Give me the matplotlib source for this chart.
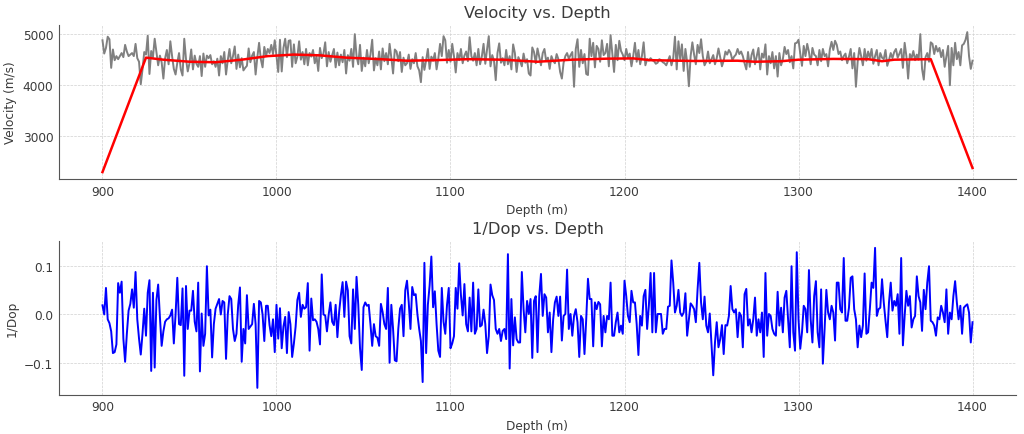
import numpy as np
import matplotlib
matplotlib.use('Agg')
import matplotlib.pyplot as plt

# velocity log, one value per metre from 900 m
velocity = [
    4870, 4610, 4720, 4940, 4890, 4330, 4690, 4480, 4560, 4500,
    4560, 4620, 4540, 4780, 4650, 4560, 4590, 4620, 4560, 4800,
    4520, 4450, 4010, 4300, 4640, 4590, 4960, 4210, 4660, 4540,
    4900, 4640, 4380, 4570, 4440, 4120, 4520, 4680, 4400, 4850,
    4560, 4310, 4200, 4430, 4620, 4300, 4180, 4900, 4500, 4260,
    4420, 4690, 4300, 4570, 4410, 4350, 4560, 4170, 4610, 4350,
    4570, 4520, 4580, 4400, 4460, 4350, 4510, 4180, 4560, 4420,
    4640, 4200, 4480, 4700, 4420, 4560, 4750, 4310, 4590, 4340,
    4520, 4280, 4330, 4370, 4710, 4440, 4570, 4640, 4200, 4540,
    4820, 4500, 4340, 4740, 4560, 4700, 4620, 4780, 4600, 4870,
    4560, 4250, 4880, 4260, 4720, 4900, 4540, 4860, 4870, 4350,
    4790, 4420, 4550, 4850, 4490, 4640, 4400, 4700, 4380, 4620,
    4550, 4680, 4420, 4560, 4270, 4720, 4520, 4610, 4830, 4360,
    4640, 4450, 4580, 4700, 4340, 4630, 4380, 4590, 4440, 4680,
    4220, 4580, 4470, 4700, 4350, 4990, 4560, 4400, 4780, 4270,
    4530, 4360, 4680, 4420, 4590, 4880, 4280, 4520, 4380, 4650,
    4300, 4710, 4460, 4620, 4400, 4800, 4530, 4220, 4690, 4650,
    4460, 4640, 4250, 4530, 4380, 4420, 4590, 4310, 4500, 4420,
    4620, 4360, 4280, 4050, 4540, 4290, 4480, 4700, 4310, 4550,
    4470, 4620, 4300, 4510, 4800, 4560, 4950, 4870, 4430, 4680,
    4450, 4800, 4560, 4240, 4620, 4480, 4700, 4420, 4570, 4650,
    4460, 4930, 4560, 4470, 4620, 4380, 4700, 4400, 4550, 4800,
    4410, 4690, 4950, 4360, 4580, 4470, 4090, 4620, 4810, 4430,
    4520, 4380, 4680, 4400, 4560, 4300, 4790, 4620, 4250, 4540,
    4460, 4360, 4610, 4430, 4500, 4220, 4180, 4730, 4640, 4420,
    4710, 4550, 4380, 4620, 4700, 4460, 4530, 4310, 4560, 4470,
    4420, 4600, 4500, 4250, 4120, 4430, 4560, 4620, 4510, 4580,
    4640, 3960, 4700, 4890, 4350, 4680, 4420, 4600, 4210, 4190,
    4900, 4560, 4820, 4340, 4760, 4700, 4450, 4870, 4580, 4620,
    4800, 4360, 4970, 4620, 4250, 4780, 4480, 4860, 4660, 4590,
    4480, 4700, 4530, 4610, 4360, 4560, 4820, 4450, 4680, 4400,
    4560, 4830, 4380, 4500, 4470, 4520, 4480, 4460, 4410, 4430,
    4500, 4480, 4440, 4420, 4380, 4470, 4560, 4380, 4520, 4940,
    4300, 4850, 4500, 4790, 4270, 4700, 4440, 3970, 4560, 4830,
    4590, 4400, 4780, 4620, 4890, 4560, 4380, 4450, 4650, 4420,
    4500, 4580, 4400, 4520, 4710, 4540, 4360, 4470, 4650, 4590,
    4680, 4620, 4480, 4550, 4590, 4700, 4600, 4650, 4560, 4420,
    4300, 4640, 4350, 4580, 4690, 4400, 4560, 4720, 4300, 4610,
    4530, 4790, 4200, 4560, 4420, 4640, 4320, 4560, 4160, 4620,
    4380, 4500, 4740, 4600, 4680, 4440, 4560, 4320, 4810, 4820,
    4880, 4610, 4370, 4760, 4560, 4800, 4640, 4400, 4720, 4590,
    4560, 4380, 4680, 4460, 4700, 4560, 4600, 4360, 4690, 4840,
    4680, 4860, 4780, 4600, 4650, 4480, 4560, 4610, 4420, 4550,
    4700, 4320, 4620, 3960, 4450, 4720, 4560, 4380, 4700, 4470,
    4650, 4520, 4700, 4410, 4560, 4680, 4380, 4620, 4530, 4500,
    4680, 4370, 4480, 4620, 4520, 4640, 4700, 4530, 4610, 4700,
    4330, 4820, 4560, 4120, 4600, 4520, 4660, 4480, 4590, 4490,
    4990, 4310, 4100, 4540, 4620, 4450, 4830, 4800, 4600, 4760,
    4650, 4720, 4540, 4680, 4350, 4560, 4760, 3990, 4720, 4380,
    4820, 4500, 4640, 4380, 4770, 4800, 4880, 5030, 4560, 4310,
    4470,
]

# smoothed velocity (red trend line)
trend_depth = [900, 925, 935, 950, 965, 980, 995, 1010, 1025, 1040, 1060, 1075,
               1090, 1110, 1130, 1150, 1170, 1190, 1205, 1215, 1240, 1265, 1275,
               1290, 1300, 1320, 1340, 1348, 1355, 1376, 1400]
trend_vel = [2290, 4530, 4490, 4450, 4440, 4490, 4560, 4590, 4575, 4530, 4500, 4470,
             4480, 4500, 4490, 4450, 4490, 4510, 4515, 4480, 4465, 4470, 4450,
             4460, 4490, 4505, 4500, 4460, 4490, 4500, 2370]

# 1/Dop, one value per metre from 900 m
inv_dop = [
    0.019, 0.000, 0.055, -0.010, -0.018, -0.035, -0.080, -0.078, -0.062, 0.065,
    0.045, 0.068, -0.050, -0.098, -0.040, 0.008, 0.022, 0.052, 0.014, 0.088,
    -0.010, -0.050, -0.083, -0.040, 0.012, -0.044, 0.045, 0.071, -0.117, 0.045,
    -0.110, 0.030, 0.062, -0.005, -0.065, -0.035, -0.015, -0.010, -0.008, -0.002,
    0.010, -0.060, 0.000, 0.076, -0.020, -0.022, 0.054, -0.127, 0.059, -0.030,
    0.008, 0.008, 0.049, -0.015, -0.035, 0.066, -0.118, 0.002, -0.065, -0.040,
    0.100, -0.002, 0.010, -0.089, -0.020, 0.012, 0.022, 0.032, 0.000, 0.028,
    0.025, -0.092, 0.000, 0.038, 0.032, -0.030, -0.055, -0.040, 0.020, 0.056,
    -0.098, -0.030, -0.060, 0.040, -0.030, -0.025, -0.020, 0.022, -0.020, -0.152,
    0.028, 0.025, 0.000, -0.055, 0.018, 0.018, -0.022, -0.045, -0.010, -0.078,
    0.020, -0.050, 0.013, -0.070, -0.025, -0.005, -0.080, 0.005, -0.020, -0.088,
    -0.060, -0.025, 0.030, 0.045, -0.005, 0.020, 0.012, 0.015, 0.065, -0.075,
    0.033, -0.012, -0.010, -0.015, -0.030, -0.062, 0.083, 0.000, -0.002, -0.035,
    0.000, 0.025, -0.015, -0.022, 0.020, -0.047, 0.005, 0.040, 0.067, -0.005,
    0.068, 0.050, -0.045, -0.060, 0.052, -0.030, 0.078, 0.020, -0.070, -0.115,
    0.015, 0.025, 0.018, 0.020, -0.020, -0.065, -0.020, -0.045, -0.048, -0.065,
    0.022, 0.005, -0.020, -0.030, 0.055, -0.100, 0.020, -0.030, -0.095, -0.097,
    -0.030, 0.012, 0.020, -0.045, 0.050, 0.070, 0.025, -0.030, 0.057, 0.040,
    0.042, 0.000, -0.030, -0.055, -0.140, 0.107, -0.080, 0.020, 0.060, 0.120,
    0.015, 0.048, -0.020, -0.075, -0.088, 0.055, -0.015, -0.040, 0.020, 0.055,
    -0.070, -0.060, -0.045, 0.055, 0.012, 0.106, 0.040, -0.002, 0.063, -0.020,
    -0.035, 0.035, -0.035, 0.066, -0.040, -0.030, 0.052, -0.025, -0.022, 0.010,
    -0.020, -0.080, -0.045, 0.062, 0.040, 0.030, -0.030, -0.040, -0.030, -0.055,
    -0.034, -0.030, -0.051, 0.125, -0.112, 0.032, -0.064, -0.006, -0.051, -0.058,
    -0.058, 0.088, 0.011, -0.037, 0.028, 0.001, 0.032, -0.090, 0.028, 0.038,
    -0.078, 0.038, 0.084, -0.003, 0.042, 0.035, -0.037, 0.004, -0.078, -0.010,
    0.025, 0.037, -0.003, 0.037, -0.054, -0.003, 0.001, 0.093, -0.030, 0.001,
    -0.044, -0.003, 0.011, -0.016, -0.088, -0.003, -0.010, -0.082, -0.010, 0.074,
    0.032, 0.032, -0.066, 0.025, 0.011, 0.026, 0.021, -0.066, -0.003, -0.037,
    -0.003, -0.010, 0.066, -0.044, -0.044, -0.016, 0.004, -0.037, -0.023, -0.040,
    0.070, 0.038, -0.003, -0.016, 0.049, 0.025, 0.025, -0.020, -0.084, -0.003,
    -0.023, 0.038, 0.051, -0.030, 0.018, 0.086, -0.037, 0.086, -0.037, 0.001,
    0.001, 0.001, -0.040, -0.030, -0.030, 0.016, 0.018, 0.112, 0.066, 0.004,
    0.018, 0.051, 0.004, -0.003, 0.004, 0.044, -0.044, -0.010, 0.023, 0.018,
    0.011, -0.016, 0.052, 0.107, 0.025, -0.010, 0.037, -0.023, -0.037, 0.002,
    -0.064, -0.126, -0.058, -0.016, -0.068, -0.051, -0.022, -0.082, -0.022, -0.023,
    -0.003, 0.059, 0.011, 0.004, 0.011, -0.047, 0.004, -0.003, -0.068, 0.042,
    0.053, -0.023, -0.010, -0.037, -0.010, 0.035, -0.044, -0.010, -0.037, 0.004,
    -0.088, 0.086, -0.044, 0.001, -0.003, -0.030, -0.040, -0.044, 0.047, -0.023,
    0.014, -0.037, 0.035, 0.049, -0.010, -0.068, 0.100, -0.037, -0.075, 0.129,
    -0.010, -0.071, -0.037, 0.018, 0.011, -0.037, 0.092, -0.010, -0.058, 0.038,
    0.069, -0.037, -0.068, 0.052, -0.102, -0.030, 0.051, 0.004, -0.010, 0.018,
    0.004, -0.054, 0.066, 0.066, 0.011, 0.004, 0.117, -0.013, -0.013, 0.014,
    0.076, 0.079, 0.011, -0.010, -0.068, -0.023, -0.047, -0.023, 0.085, -0.040,
    -0.037, 0.011, 0.066, 0.055, 0.138, -0.003, 0.011, 0.014, 0.073, 0.025,
    -0.013, -0.047, 0.025, 0.066, 0.008, 0.028, 0.018, 0.042, -0.040, 0.117,
    -0.064, -0.003, 0.049, 0.018, 0.038, -0.027, -0.010, -0.003, 0.079, 0.038,
    0.025, -0.034, 0.051, 0.011, 0.066, 0.100, -0.013, -0.016, -0.023, -0.044,
    -0.006, -0.010, 0.018, 0.004, -0.016, 0.052, -0.040, 0.004, -0.010, 0.038,
    0.069, 0.025, -0.010, 0.018, -0.040, 0.014, 0.018, 0.021, 0.004, -0.058,
    -0.016,
]

depth_v = 900 + np.arange(len(velocity))
depth_d = 900 + np.arange(len(inv_dop))

txt = '#3b3b3b'
plt.rcParams['text.color'] = txt
plt.rcParams['axes.labelcolor'] = txt
plt.rcParams['xtick.color'] = txt
plt.rcParams['ytick.color'] = txt

fig = plt.figure(figsize=(10.24, 4.35), dpi=100)
ax1 = fig.add_axes([0.0576, 0.586, 0.9346, 0.354])
ax2 = fig.add_axes([0.0576, 0.090, 0.9346, 0.354])

ax1.plot(depth_v, velocity, color='gray', lw=1.4)
ax1.plot(trend_depth, trend_vel, color='red', lw=1.8)
ax1.set_title('Velocity vs. Depth', fontsize=11.7)
ax1.set_xlabel('Depth (m)', fontsize=8.7)
ax1.set_ylabel('Velocity (m/s)', fontsize=8.7)

ax2.plot(depth_d, inv_dop, color='blue', lw=1.4)
ax2.set_title('1/Dop vs. Depth', fontsize=11.7)
ax2.set_xlabel('Depth (m)', fontsize=8.7)
ax2.set_ylabel('1/Dop', fontsize=8.7)
ax2.set_yticks([-0.1, 0.0, 0.1])

for ax in (ax1, ax2):
    ax.set_xticks([900, 1000, 1100, 1200, 1300, 1400])
    ax.tick_params(labelsize=8.7, length=0, pad=4)
    ax.grid(True, linestyle='--', linewidth=0.5, color='#d0d0d0')
    ax.spines['top'].set_visible(False)
    ax.spines['right'].set_visible(False)
    ax.spines['left'].set_color('#555555')
    ax.spines['bottom'].set_color('#555555')

fig.savefig('out.png', dpi=100)
